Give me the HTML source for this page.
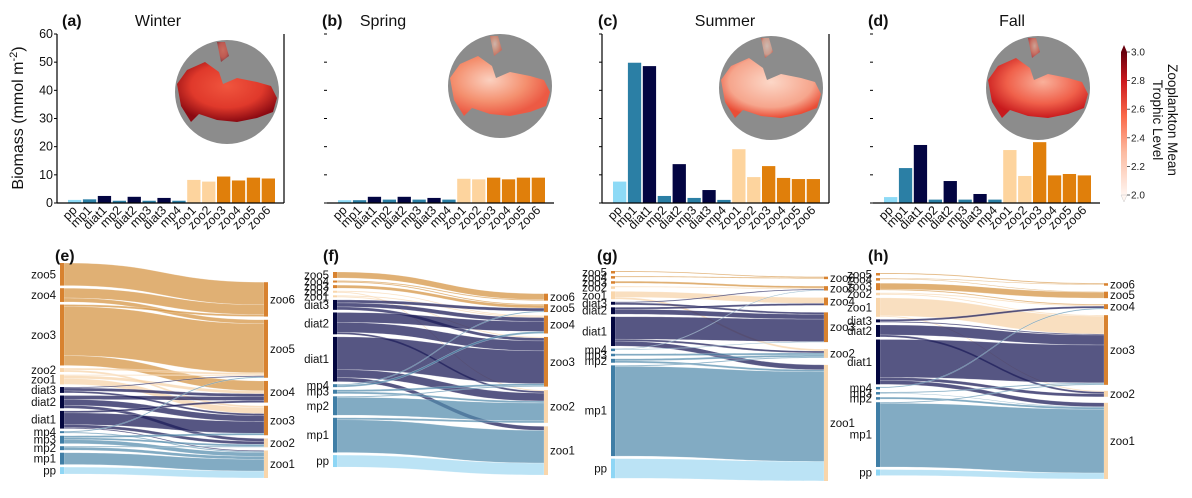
<!DOCTYPE html>
<html><head><meta charset="utf-8"><style>
html,body{margin:0;padding:0;background:#fff;}
svg{display:block;font-family:"Liberation Sans","DejaVu Sans",sans-serif;}
</style></head><body>
<svg id="fig" width="1192" height="498" viewBox="0 0 1192 498" xmlns="http://www.w3.org/2000/svg">
<defs>
<linearGradient id="cbar" x1="0" y1="1" x2="0" y2="0">
<stop offset="0" stop-color="#fff5f0"/><stop offset="0.3" stop-color="#fcbba1"/><stop offset="0.55" stop-color="#fb6a4a"/><stop offset="0.8" stop-color="#cb181d"/><stop offset="1" stop-color="#67000d"/>
</linearGradient>
<radialGradient id="mapW" cx="0.5" cy="0.4" r="0.6"><stop offset="0" stop-color="#f0553e"/><stop offset="0.6" stop-color="#e0392b"/><stop offset="1" stop-color="#8b0a12"/></radialGradient>
<radialGradient id="mapS" cx="0.4" cy="0.4" r="0.6"><stop offset="0" stop-color="#fbd0bf"/><stop offset="0.6" stop-color="#f4906f"/><stop offset="1" stop-color="#ec5a44"/></radialGradient>
<radialGradient id="mapU" cx="0.5" cy="0.4" r="0.6"><stop offset="0" stop-color="#fcd7c7"/><stop offset="0.7" stop-color="#f6a58c"/><stop offset="1" stop-color="#ea4d36"/></radialGradient>
<radialGradient id="mapF" cx="0.55" cy="0.4" r="0.6"><stop offset="0" stop-color="#f9b09a"/><stop offset="0.6" stop-color="#f0604a"/><stop offset="1" stop-color="#c81a1d"/></radialGradient>
</defs>
<g id="bars"></g>
<g id="sankeys"></g>
</svg>
<script>
const NS="http://www.w3.org/2000/svg";
const svg=document.getElementById('fig');
const categories=["pp","mp1","diat1","mp2","diat2","mp3","diat3","mp4","zoo1","zoo2","zoo3","zoo4","zoo5","zoo6"];
const winterValues=[1.1,1.3,2.5,0.8,2.2,0.8,1.8,0.8,8.2,7.6,9.4,8.0,9.0,8.7];
const springValues=[1.0,1.0,2.2,1.2,2.2,1.2,1.8,1.2,8.6,8.4,9.0,8.4,9.0,9.0];
const summerValues=[7.6,49.8,48.6,2.5,13.8,1.8,4.6,1.1,19.1,9.2,13.1,8.9,8.5,8.5];
const fallValues=[2.1,12.4,20.6,1.2,7.8,1.2,3.2,1.2,18.8,9.6,21.6,9.8,10.3,9.8];
const yTicks=[0,10,20,30,40,50,60];
const seasons=["Winter","Spring","Summer","Fall"];
const cbTicks=[2.0,2.2,2.4,2.6,2.8,3.0];

const winterLeft=["zoo5","zoo4","zoo3","zoo2","zoo1","diat3","diat2","diat1","mp4","mp3","mp2","mp1","pp"];
const winterRight=["zoo6","zoo5","zoo4","zoo3","zoo2","zoo1"];
const winterFlows=[["zoo5","zoo6",23],["zoo4","zoo6",10],["zoo4","zoo5",4],["zoo3","zoo6",2],["zoo3","zoo5",50],["zoo3","zoo4",10],["zoo2","zoo5",2],["zoo2","zoo3",2],["zoo1","zoo5",1],["zoo1","zoo4",3],["zoo1","zoo3",6],["diat3","zoo5",1],["diat3","zoo4",3],["diat3","zoo3",2],["diat2","zoo4",4],["diat2","zoo3",6],["diat2","zoo2",3],["diat1","zoo4",2],["diat1","zoo3",12],["diat1","zoo2",3],["diat1","zoo1",1],["mp4","zoo5",1],["mp4","zoo1",1],["mp3","zoo3",2],["mp3","zoo2",2],["mp3","zoo1",4],["mp2","zoo2",1],["mp2","zoo1",3],["mp1","zoo1",12],["pp","zoo1",7]];
const springLeft=winterLeft.slice();
const springRight=winterRight.slice();
const springFlows=[["zoo5","zoo6",6],["zoo4","zoo6",1],["zoo4","zoo5",1],["zoo3","zoo5",3],["zoo2","zoo4",1],["zoo2","zoo2",1],["zoo1","zoo4",1],["zoo1","zoo3",1],["diat3","zoo5",3],["diat3","zoo4",4],["diat3","zoo3",3],["diat2","zoo4",10],["diat2","zoo3",10],["diat2","zoo2",2],["diat1","zoo3",33],["diat1","zoo2",8],["diat1","zoo1",4],["mp4","zoo5",1],["mp4","zoo4",2],["mp3","zoo3",2],["mp3","zoo2",2],["mp2","zoo3",1],["mp2","zoo2",18],["mp1","zoo2",2],["mp1","zoo1",33],["pp","zoo1",12]];
const summerLeft=winterLeft.slice();
const summerRight=winterRight.slice();
const summerFlows=[["zoo5","zoo6",1],["zoo4","zoo6",1],["zoo3","zoo5",2],["zoo2","zoo5",1],["zoo1","zoo4",6],["zoo1","zoo2",2],["diat3","zoo5",1],["diat3","zoo3",2],["diat2","zoo4",2],["diat2","zoo3",5],["diat1","zoo3",23],["diat1","zoo2",2],["diat1","zoo1",5],["mp4","zoo5",0.5],["mp4","zoo3",0.5],["mp3","zoo2",2],["mp2","zoo2",2],["mp2","zoo1",2],["mp1","zoo2",1],["mp1","zoo1",92],["pp","zoo1",20]];
const fallLeft=winterLeft.slice();
const fallRight=winterRight.slice();
const fallFlows=[["zoo5","zoo6",1],["zoo4","zoo6",0.5],["zoo4","zoo5",0.5],["zoo3","zoo5",6],["zoo3","zoo4",1],["zoo2","zoo4",1],["zoo2","zoo3",1],["zoo1","zoo3",18],["zoo1","zoo2",1],["diat3","zoo4",2],["diat3","zoo3",1],["diat2","zoo3",10],["diat2","zoo2",2],["diat1","zoo3",38],["diat1","zoo2",3],["diat1","zoo1",4],["mp4","zoo4",1],["mp3","zoo3",1],["mp3","zoo1",0.5],["mp2","zoo1",2],["mp1","zoo3",1],["mp1","zoo1",64],["pp","zoo1",6]];

function el(tag,attrs,parent,text){const e=document.createElementNS(NS,tag);for(const k in attrs)e.setAttribute(k,attrs[k]);if(text!==undefined)e.textContent=text;(parent||svg).appendChild(e);return e;}
function barColor(c){if(c==="pp")return "#8ddaf6";if(c.startsWith("mp"))return "#2b7fa5";if(c.startsWith("diat"))return "#030542";if(c==="zoo1"||c==="zoo2")return "#fdd49e";return "#e07f0b";}
function nodeColor(c){if(c==="pp")return "#8ed6f5";if(c.startsWith("mp"))return "#3f7ea6";if(c.startsWith("diat"))return "#03063f";if(c==="zoo1"||c==="zoo2")return "#f9d6ab";return "#d8822f";}
function linkColor(c){if(c==="pp")return "rgba(150,212,240,0.65)";if(c.startsWith("mp"))return "rgba(82,139,172,0.72)";if(c.startsWith("diat"))return "rgba(30,30,90,0.75)";if(c==="zoo1"||c==="zoo2")return "rgba(246,210,165,0.7)";return "rgba(214,150,70,0.75)";}

const barG=document.getElementById('bars');
const panels=[
 {vals:winterValues,x0:57,letter:"(a)",lx:62,tx:158,left:true,right:true,labels:true,map:"mapW",cx:227,cy:92},
 {vals:springValues,x0:327,letter:"(b)",lx:322,tx:383,left:false,right:false,labels:false,map:"mapS",cx:500,cy:86},
 {vals:summerValues,x0:602,letter:"(c)",lx:598,tx:725,left:true,right:true,labels:false,map:"mapU",cx:771,cy:88},
 {vals:fallValues,x0:873,letter:"(d)",lx:868,tx:1012,left:false,right:false,labels:false,map:"mapF",cx:1038,cy:88}];
const AXW=227,Y0=203,YT=34,YMAX=60;
function yScale(v){return Y0-(v/YMAX)*(Y0-YT);}
panels.forEach((p,pi)=>{
 const g=el('g',{},barG);
 
 
 const lt=el('text',{x:p.lx,y:26,'font-size':16,'font-weight':'bold',fill:'#111'},g,p.letter);
 
 
 const tt=el('text',{x:p.tx,y:26,'font-size':16,'text-anchor':'middle',fill:'#111'},g,seasons[pi]);
 
 
 const mg=el('g',{},g);
 
 
 const cx=p.cx,cy=p.cy;
 el('circle',{cx:cx,cy:cy,r:52,fill:'#8c8c8c'},mg);
 const pts=[[-50,-8],[-40,-22],[-22,-30],[-8,-20],[-4,-8],[10,-14],[30,-10],[44,-6],[50,6],[46,20],[30,26],[10,30],[-10,28],[-28,22],[-36,30],[-46,14]];
 el('path',{d:'M'+pts.map(q=>(cx+q[0])+','+(cy+q[1])).join(' L')+' Z',fill:'url(#'+p.map+')'},mg);
 el('path',{d:`M${cx-10},${cy-50} L${cx-2},${cy-50} L${cx+2},${cy-36} L${cx-6},${cy-30} Z`,fill:'url(#'+p.map+')',opacity:0.6},mg);
 const slot=14.9,bw=13.3,pad=11;
 categories.forEach((c,i)=>{
  const v=p.vals[i];const x=p.x0+pad+i*slot;
  const r=el('rect',{x:x,y:yScale(v),width:bw,height:Y0-yScale(v),fill:barColor(c)},g);
  
  
  const cxp=x+bw/2+3;
  const t=el('text',{x:cxp,y:Y0+8,'font-size':12.5,'text-anchor':'end',fill:'#111',transform:'rotate(-45 '+cxp+' '+(Y0+8)+')'},g,c);
  
  
 });
 el('line',{x1:p.x0,y1:Y0,x2:p.x0+AXW,y2:Y0,stroke:'#000','stroke-width':1.2},g);
 if(p.left)el('line',{x1:p.x0,y1:Y0,x2:p.x0,y2:YT,stroke:'#000','stroke-width':1.2},g);
 if(p.right)el('line',{x1:p.x0+AXW,y1:Y0,x2:p.x0+AXW,y2:YT,stroke:'#000','stroke-width':1.2},g);
 yTicks.forEach(v=>{
  el('line',{x1:p.x0-3,y1:yScale(v),x2:p.x0,y2:yScale(v),stroke:'#000','stroke-width':1},g);
  if(p.labels){const t=el('text',{x:p.x0-4,y:yScale(v)+4,'font-size':12.5,'text-anchor':'end',fill:'#111'},g,String(v));
   
   }
 });
});
const yt=el('text',{x:0,y:0,'font-size':16,'text-anchor':'middle',fill:'#111',transform:'translate(23 118) rotate(-90)'},barG);


yt.appendChild(document.createTextNode('Biomass (mmol m'));
el('tspan',{'font-size':11,dy:-6},yt,'-2');
el('tspan',{dy:6},yt,')');

const cb=el('g',{},barG);


const CB0=195,CB1=52;
function cbScale(v){return CB0-(v-2)/(1)*(CB0-CB1);}
el('rect',{x:1121,y:CB1,width:6,height:CB0-CB1,fill:'url(#cbar)'},cb);
el('polygon',{points:'1121,52 1127,52 1124,45',fill:'#67000d'},cb);
el('polygon',{points:'1121,195 1127,195 1124,202',fill:'#fff5f0',stroke:'#ccc','stroke-width':0.5},cb);
cbTicks.forEach(v=>{
 el('line',{x1:1127,y1:cbScale(v),x2:1130,y2:cbScale(v),stroke:'#333','stroke-width':0.8},cb);
 const t=el('text',{x:1131,y:cbScale(v)+3.5,'font-size':10,fill:'#222'},cb,v.toFixed(1));
 
 
});
const ct1=el('text',{x:0,y:0,'font-size':13.5,'text-anchor':'middle',fill:'#111',transform:'translate(1168 120) rotate(90)'},cb,'Zooplankton Mean');


const ct2=el('text',{x:0,y:0,'font-size':13.5,'text-anchor':'middle',fill:'#111',transform:'translate(1153 120) rotate(90)'},cb,'Trophic Level');



const sk=document.getElementById('sankeys');
const sPanels=[
 {L:winterLeft,R:winterRight,F:winterFlows,xl:60,xr:264,top:263,bot:478,letter:"(e)",lx:55,gapR:3.2,minH:1},
 {L:springLeft,R:springRight,F:springFlows,xl:333,xr:544,top:272,bot:475,letter:"(f)",lx:323,gapR:3.5,minH:2},
 {L:summerLeft,R:summerRight,F:summerFlows,xl:611,xr:824,top:271,bot:481,letter:"(g)",lx:597,gapR:7,minH:2.5},
 {L:fallLeft,R:fallRight,F:fallFlows,xl:876,xr:1104,top:273,bot:479,letter:"(h)",lx:868,gapR:6,minH:2.5}];
sPanels.forEach((p,pi)=>{
 const g=el('g',{},sk);
 
 
 const outSum={},inSum={};
 p.L.forEach(n=>outSum[n]=0);p.R.forEach(n=>inSum[n]=0);
 p.F.forEach(f=>{outSum[f[0]]+=f[2];inSum[f[1]]+=f[2];});
 const total=p.F.reduce((a,f)=>a+f[2],0);
 const gapL=2.6,gapR=p.gapR;
 const H=p.bot-p.top;
 const k=(H-gapL*(p.L.length-1)-p.minH*4)/total;
 const hL=n=>Math.max(outSum[n]*k,p.minH), hR=n=>Math.max(inSum[n]*k,p.minH);
 let rightH=gapR*(p.R.length-1);p.R.forEach(n=>rightH+=hR(n));
 const lPos={},rPos={};
 let y=p.top;p.L.forEach(n=>{lPos[n]=y;y+=hL(n)+gapL;});
 y=p.bot-rightH;p.R.forEach(n=>{rPos[n]=y;y+=hR(n)+gapR;});
 const lCur=Object.assign({},lPos),rCur=Object.assign({},rPos);
 const bySrc=p.F.slice().sort((a,b)=>p.L.indexOf(a[0])-p.L.indexOf(b[0])||p.R.indexOf(a[1])-p.R.indexOf(b[1]));
 const sy={};bySrc.forEach(f=>{sy[f.join()]=lCur[f[0]];lCur[f[0]]+=f[2]*k;});
 const byTgt=p.F.slice().sort((a,b)=>p.R.indexOf(a[1])-p.R.indexOf(b[1])||p.L.indexOf(a[0])-p.L.indexOf(b[0]));
 const ty={};byTgt.forEach(f=>{ty[f.join()]=rCur[f[1]];rCur[f[1]]+=f[2]*k;});
 const x0=p.xl+4,x1=p.xr,mx=(x0+x1)/2;
 p.F.forEach(f=>{
  const h=Math.max(f[2]*k,0.6);const a=sy[f.join()],b=ty[f.join()];
  const d=`M${x0},${a} C${mx},${a} ${mx},${b} ${x1},${b} L${x1},${b+h} C${mx},${b+h} ${mx},${a+h} ${x0},${a+h} Z`;
  const path=el('path',{d:d,fill:linkColor(f[0]),stroke:'rgba(255,255,255,0.5)','stroke-width':0.4},g);
  
  
 });
 p.L.forEach(n=>{
  const h=hL(n);
  const r=el('rect',{x:p.xl,y:lPos[n],width:4,height:h,fill:nodeColor(n)},g);
  
  
  const t=el('text',{x:p.xl-4,y:lPos[n]+h/2+4,'font-size':11.5,'text-anchor':'end',fill:'#111'},g,n);
  
  
 });
 p.R.forEach(n=>{
  const h=hR(n);
  const r=el('rect',{x:p.xr,y:rPos[n],width:4,height:h,fill:nodeColor(n)},g);
  
  
  const t=el('text',{x:p.xr+6,y:rPos[n]+h/2+4,'font-size':11.5,fill:'#111'},g,n);
  
  
 });
 const lt=el('text',{x:p.lx,y:261,'font-size':16,'font-weight':'bold',fill:'#111'},g,p.letter);
 
 
});
</script>
</body></html>
